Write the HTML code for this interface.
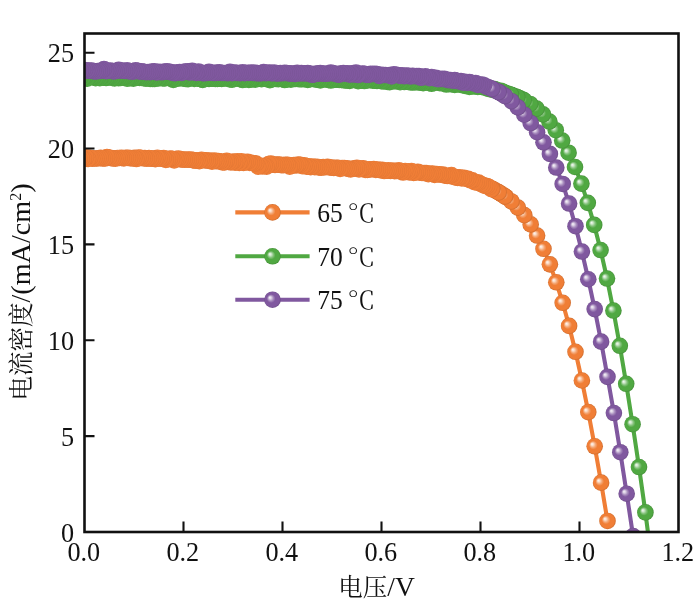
<!DOCTYPE html>
<html><head><meta charset="utf-8"><title>J-V</title><style>html,body{margin:0;padding:0;background:#fff;}svg{display:block;filter:blur(0.3px);}</style></head><body>
<svg width="700" height="603" viewBox="0 0 700 603">
<defs>
<radialGradient id="gorange" cx="0.5" cy="0.5" r="0.5" fx="0.33" fy="0.36"><stop offset="0" stop-color="#FEF6F1"/><stop offset="0.14" stop-color="#FBDFCD"/><stop offset="0.34" stop-color="#F4A572"/><stop offset="0.52" stop-color="#F07E36"/><stop offset="0.86" stop-color="#F07E36"/><stop offset="1" stop-color="#CE6C2E"/></radialGradient>
<radialGradient id="forange" cx="0.5" cy="0.5" r="0.5" fx="0.33" fy="0.36"><stop offset="0" stop-color="#FEF6F1"/><stop offset="0.12" stop-color="#FBDFCD"/><stop offset="0.3" stop-color="#F4A572"/><stop offset="0.48" stop-color="#F07E36"/><stop offset="0.9" stop-color="#F07E36"/><stop offset="1" stop-color="#E27633"/></radialGradient>
<radialGradient id="ggreen" cx="0.5" cy="0.5" r="0.5" fx="0.33" fy="0.36"><stop offset="0" stop-color="#F3F9F2"/><stop offset="0.14" stop-color="#D3E9D0"/><stop offset="0.34" stop-color="#84C27B"/><stop offset="0.52" stop-color="#50A842"/><stop offset="0.86" stop-color="#50A842"/><stop offset="1" stop-color="#459039"/></radialGradient>
<radialGradient id="fgreen" cx="0.5" cy="0.5" r="0.5" fx="0.33" fy="0.36"><stop offset="0" stop-color="#F3F9F2"/><stop offset="0.12" stop-color="#D3E9D0"/><stop offset="0.3" stop-color="#84C27B"/><stop offset="0.48" stop-color="#50A842"/><stop offset="0.9" stop-color="#50A842"/><stop offset="1" stop-color="#4B9E3E"/></radialGradient>
<radialGradient id="gpurple" cx="0.5" cy="0.5" r="0.5" fx="0.33" fy="0.36"><stop offset="0" stop-color="#F6F3F8"/><stop offset="0.14" stop-color="#DFD5E7"/><stop offset="0.34" stop-color="#A68ABC"/><stop offset="0.52" stop-color="#80589F"/><stop offset="0.86" stop-color="#80589F"/><stop offset="1" stop-color="#6E4C89"/></radialGradient>
<radialGradient id="fpurple" cx="0.5" cy="0.5" r="0.5" fx="0.33" fy="0.36"><stop offset="0" stop-color="#F6F3F8"/><stop offset="0.12" stop-color="#DFD5E7"/><stop offset="0.3" stop-color="#A68ABC"/><stop offset="0.48" stop-color="#80589F"/><stop offset="0.9" stop-color="#80589F"/><stop offset="1" stop-color="#785395"/></radialGradient>
<clipPath id="clip"><rect x="84.5" y="33.5" width="594.0" height="498.5"/></clipPath>
</defs>
<rect width="700" height="603" fill="#fff"/>
<g clip-path="url(#clip)">
<path d="M607.5 520.98 L601.1 482.67 L594.7 446.26 L588.3 412.09 L581.9 380.5 L575.5 351.78 L569.1 325.9 L562.7 302.77 L556.3 282.29 L549.9 264.35 L543.5 248.82 L537.1 235.55 L530.7 224.38 L524.3 215.14 L517.9 207.6 L511.5 201.47 L505.1 196.49 L498.7 192.38 L492.3 188.9 L491.3 189.21 L489.2 187.11 L487.1 186.09 L485 185.87 L482.9 184.94 L480.8 183.99 L478.7 182.62 L476.6 182.46 L474.5 182.22 L472.4 180.37 L470.3 180.32 L468.2 178.9 L466.1 178.74 L464 177.92 L461.9 178.42 L459.8 177.37 L457.7 177.88 L455.6 177.42 L453.5 176.85 L451.4 175.1 L449.3 175.96 L447.2 175.93 L445.1 175.72 L443 174.44 L440.9 174.79 L438.8 174.21 L436.7 174.05 L434.6 174.91 L432.5 173.54 L430.4 173.77 L428.3 174.09 L426.2 172.98 L424.1 173.05 L422 172.98 L419.9 172.75 L417.8 171.78 L415.7 172.38 L413.6 172.97 L411.5 171.05 L409.4 172.33 L407.3 171.72 L405.2 171.11 L403.1 172.55 L401 171.66 L398.9 170.34 L396.8 170.97 L394.7 171.14 L392.6 170.55 L390.5 170.95 L388.4 170.38 L386.3 170.71 L384.2 171.06 L382.1 169.68 L380 170.1 L377.9 169.59 L375.8 169.84 L373.7 168.95 L371.6 169.22 L369.5 169.35 L367.4 169.91 L365.3 169.96 L363.2 168.38 L361.1 168.6 L359 169.37 L356.9 167.69 L354.8 168.51 L352.7 168.63 L350.6 169.35 L348.5 168.91 L346.4 168.2 L344.3 168.07 L342.2 168.04 L340.1 169 L338 167.72 L335.9 167.69 L333.8 167.97 L331.7 167.58 L329.6 167.43 L327.5 166.76 L325.4 167.31 L323.3 166.94 L321.2 167.8 L319.1 167.37 L317 166.85 L314.9 167.15 L312.8 166.43 L310.7 167.15 L308.6 166.4 L306.5 166.63 L304.4 165.39 L302.3 166.25 L300.2 164.91 L298.1 164.59 L296 165.51 L293.9 165.03 L291.8 165.54 L289.7 166.67 L287.6 164.71 L285.5 164.71 L283.4 165.08 L281.3 165.14 L279.2 164.61 L277.1 164.47 L275 164.9 L272.9 164.66 L270.8 163.61 L268.7 164.06 L266.6 166.61 L264.5 165.83 L262.4 166.5 L260.3 165.71 L258.2 166.69 L256.1 163.5 L254 163.32 L251.9 162.79 L249.8 162.95 L247.7 161.71 L245.6 162.11 L243.5 162.89 L241.4 161.28 L239.3 162.95 L237.2 161.27 L235.1 162.66 L233 161.58 L230.9 162.45 L228.8 161.94 L226.7 160.83 L224.6 162.39 L222.5 162.4 L220.4 161.38 L218.3 161.15 L216.2 161.11 L214.1 160.52 L212 161.66 L209.9 160.57 L207.8 160.76 L205.7 160.21 L203.6 160.21 L201.5 159.72 L199.4 161.15 L197.3 160.2 L195.2 160.78 L193.1 160.12 L191 159.6 L188.9 159.73 L186.8 159.5 L184.7 159.76 L182.6 159.44 L180.5 159.4 L178.4 158.67 L176.3 158.93 L174.2 160.33 L172.1 158.86 L170 158.55 L167.9 159.32 L165.8 159.89 L163.7 158.1 L161.6 158.78 L159.5 158.46 L157.4 157.72 L155.3 159.16 L153.2 158.64 L151.1 158.64 L149 158.09 L146.9 158.77 L144.8 158.12 L142.7 158.31 L140.6 157.68 L138.5 157.58 L136.4 159.07 L134.3 157.92 L132.2 158.37 L130.1 158.14 L128 157.86 L125.9 157.79 L123.8 158.45 L121.7 157.87 L119.6 157.94 L117.5 158.03 L115.4 158.7 L113.3 158.4 L111.2 158.21 L109.1 157.63 L107 157.14 L104.9 158.54 L102.8 158.55 L100.7 157.89 L98.6 158.31 L96.5 158.47 L94.4 158.51 L92.3 158.59 L90.2 157.78 L88.1 158.99 L86 157.36 L83.9 158.66 L81.8 158.47 L79.7 158.74 L77.6 159.39 L75.5 159.19 L73.4 157.67 L71.3 157.39" fill="none" stroke="#F07E36" stroke-width="4.1" stroke-linejoin="round"/>
<g fill="url(#forange)"><circle cx="506" cy="197.13" r="8.3"/><circle cx="503.9" cy="195.66" r="8.3"/><circle cx="501.8" cy="194.28" r="8.3"/><circle cx="499.7" cy="192.98" r="8.3"/><circle cx="497.6" cy="191.75" r="8.3"/><circle cx="495.5" cy="190.57" r="8.3"/><circle cx="493.4" cy="189.46" r="8.3"/></g>
<g fill="url(#gorange)"><circle cx="607.5" cy="520.98" r="8.3"/><circle cx="601.1" cy="482.67" r="8.3"/><circle cx="594.7" cy="446.26" r="8.3"/><circle cx="588.3" cy="412.09" r="8.3"/><circle cx="581.9" cy="380.5" r="8.3"/><circle cx="575.5" cy="351.78" r="8.3"/><circle cx="569.1" cy="325.9" r="8.3"/><circle cx="562.7" cy="302.77" r="8.3"/><circle cx="556.3" cy="282.29" r="8.3"/><circle cx="549.9" cy="264.35" r="8.3"/><circle cx="543.5" cy="248.82" r="8.3"/><circle cx="537.1" cy="235.55" r="8.3"/><circle cx="530.7" cy="224.38" r="8.3"/><circle cx="524.3" cy="215.14" r="8.3"/><circle cx="517.9" cy="207.6" r="8.3"/><circle cx="511.5" cy="201.47" r="8.3"/><circle cx="505.1" cy="196.49" r="8.3"/><circle cx="498.7" cy="192.38" r="8.3"/><circle cx="492.3" cy="188.9" r="8.3"/></g>
<g fill="url(#forange)"><circle cx="491.3" cy="189.21" r="8.3"/><circle cx="489.2" cy="187.11" r="8.3"/><circle cx="487.1" cy="186.09" r="8.3"/><circle cx="485" cy="185.87" r="8.3"/><circle cx="482.9" cy="184.94" r="8.3"/><circle cx="480.8" cy="183.99" r="8.3"/><circle cx="478.7" cy="182.62" r="8.3"/><circle cx="476.6" cy="182.46" r="8.3"/><circle cx="474.5" cy="182.22" r="8.3"/><circle cx="472.4" cy="180.37" r="8.3"/><circle cx="470.3" cy="180.32" r="8.3"/><circle cx="468.2" cy="178.9" r="8.3"/><circle cx="466.1" cy="178.74" r="8.3"/><circle cx="464" cy="177.92" r="8.3"/><circle cx="461.9" cy="178.42" r="8.3"/><circle cx="459.8" cy="177.37" r="8.3"/><circle cx="457.7" cy="177.88" r="8.3"/><circle cx="455.6" cy="177.42" r="8.3"/><circle cx="453.5" cy="176.85" r="8.3"/><circle cx="451.4" cy="175.1" r="8.3"/><circle cx="449.3" cy="175.96" r="8.3"/><circle cx="447.2" cy="175.93" r="8.3"/><circle cx="445.1" cy="175.72" r="8.3"/><circle cx="443" cy="174.44" r="8.3"/><circle cx="440.9" cy="174.79" r="8.3"/><circle cx="438.8" cy="174.21" r="8.3"/><circle cx="436.7" cy="174.05" r="8.3"/><circle cx="434.6" cy="174.91" r="8.3"/><circle cx="432.5" cy="173.54" r="8.3"/><circle cx="430.4" cy="173.77" r="8.3"/><circle cx="428.3" cy="174.09" r="8.3"/><circle cx="426.2" cy="172.98" r="8.3"/><circle cx="424.1" cy="173.05" r="8.3"/><circle cx="422" cy="172.98" r="8.3"/><circle cx="419.9" cy="172.75" r="8.3"/><circle cx="417.8" cy="171.78" r="8.3"/><circle cx="415.7" cy="172.38" r="8.3"/><circle cx="413.6" cy="172.97" r="8.3"/><circle cx="411.5" cy="171.05" r="8.3"/><circle cx="409.4" cy="172.33" r="8.3"/><circle cx="407.3" cy="171.72" r="8.3"/><circle cx="405.2" cy="171.11" r="8.3"/><circle cx="403.1" cy="172.55" r="8.3"/><circle cx="401" cy="171.66" r="8.3"/><circle cx="398.9" cy="170.34" r="8.3"/><circle cx="396.8" cy="170.97" r="8.3"/><circle cx="394.7" cy="171.14" r="8.3"/><circle cx="392.6" cy="170.55" r="8.3"/><circle cx="390.5" cy="170.95" r="8.3"/><circle cx="388.4" cy="170.38" r="8.3"/><circle cx="386.3" cy="170.71" r="8.3"/><circle cx="384.2" cy="171.06" r="8.3"/><circle cx="382.1" cy="169.68" r="8.3"/><circle cx="380" cy="170.1" r="8.3"/><circle cx="377.9" cy="169.59" r="8.3"/><circle cx="375.8" cy="169.84" r="8.3"/><circle cx="373.7" cy="168.95" r="8.3"/><circle cx="371.6" cy="169.22" r="8.3"/><circle cx="369.5" cy="169.35" r="8.3"/><circle cx="367.4" cy="169.91" r="8.3"/><circle cx="365.3" cy="169.96" r="8.3"/><circle cx="363.2" cy="168.38" r="8.3"/><circle cx="361.1" cy="168.6" r="8.3"/><circle cx="359" cy="169.37" r="8.3"/><circle cx="356.9" cy="167.69" r="8.3"/><circle cx="354.8" cy="168.51" r="8.3"/><circle cx="352.7" cy="168.63" r="8.3"/><circle cx="350.6" cy="169.35" r="8.3"/><circle cx="348.5" cy="168.91" r="8.3"/><circle cx="346.4" cy="168.2" r="8.3"/><circle cx="344.3" cy="168.07" r="8.3"/><circle cx="342.2" cy="168.04" r="8.3"/><circle cx="340.1" cy="169" r="8.3"/><circle cx="338" cy="167.72" r="8.3"/><circle cx="335.9" cy="167.69" r="8.3"/><circle cx="333.8" cy="167.97" r="8.3"/><circle cx="331.7" cy="167.58" r="8.3"/><circle cx="329.6" cy="167.43" r="8.3"/><circle cx="327.5" cy="166.76" r="8.3"/><circle cx="325.4" cy="167.31" r="8.3"/><circle cx="323.3" cy="166.94" r="8.3"/><circle cx="321.2" cy="167.8" r="8.3"/><circle cx="319.1" cy="167.37" r="8.3"/><circle cx="317" cy="166.85" r="8.3"/><circle cx="314.9" cy="167.15" r="8.3"/><circle cx="312.8" cy="166.43" r="8.3"/><circle cx="310.7" cy="167.15" r="8.3"/><circle cx="308.6" cy="166.4" r="8.3"/><circle cx="306.5" cy="166.63" r="8.3"/><circle cx="304.4" cy="165.39" r="8.3"/><circle cx="302.3" cy="166.25" r="8.3"/><circle cx="300.2" cy="164.91" r="8.3"/><circle cx="298.1" cy="164.59" r="8.3"/><circle cx="296" cy="165.51" r="8.3"/><circle cx="293.9" cy="165.03" r="8.3"/><circle cx="291.8" cy="165.54" r="8.3"/><circle cx="289.7" cy="166.67" r="8.3"/><circle cx="287.6" cy="164.71" r="8.3"/><circle cx="285.5" cy="164.71" r="8.3"/><circle cx="283.4" cy="165.08" r="8.3"/><circle cx="281.3" cy="165.14" r="8.3"/><circle cx="279.2" cy="164.61" r="8.3"/><circle cx="277.1" cy="164.47" r="8.3"/><circle cx="275" cy="164.9" r="8.3"/><circle cx="272.9" cy="164.66" r="8.3"/><circle cx="270.8" cy="163.61" r="8.3"/><circle cx="268.7" cy="164.06" r="8.3"/><circle cx="266.6" cy="166.61" r="8.3"/><circle cx="264.5" cy="165.83" r="8.3"/><circle cx="262.4" cy="166.5" r="8.3"/><circle cx="260.3" cy="165.71" r="8.3"/><circle cx="258.2" cy="166.69" r="8.3"/><circle cx="256.1" cy="163.5" r="8.3"/><circle cx="254" cy="163.32" r="8.3"/><circle cx="251.9" cy="162.79" r="8.3"/><circle cx="249.8" cy="162.95" r="8.3"/><circle cx="247.7" cy="161.71" r="8.3"/><circle cx="245.6" cy="162.11" r="8.3"/><circle cx="243.5" cy="162.89" r="8.3"/><circle cx="241.4" cy="161.28" r="8.3"/><circle cx="239.3" cy="162.95" r="8.3"/><circle cx="237.2" cy="161.27" r="8.3"/><circle cx="235.1" cy="162.66" r="8.3"/><circle cx="233" cy="161.58" r="8.3"/><circle cx="230.9" cy="162.45" r="8.3"/><circle cx="228.8" cy="161.94" r="8.3"/><circle cx="226.7" cy="160.83" r="8.3"/><circle cx="224.6" cy="162.39" r="8.3"/><circle cx="222.5" cy="162.4" r="8.3"/><circle cx="220.4" cy="161.38" r="8.3"/><circle cx="218.3" cy="161.15" r="8.3"/><circle cx="216.2" cy="161.11" r="8.3"/><circle cx="214.1" cy="160.52" r="8.3"/><circle cx="212" cy="161.66" r="8.3"/><circle cx="209.9" cy="160.57" r="8.3"/><circle cx="207.8" cy="160.76" r="8.3"/><circle cx="205.7" cy="160.21" r="8.3"/><circle cx="203.6" cy="160.21" r="8.3"/><circle cx="201.5" cy="159.72" r="8.3"/><circle cx="199.4" cy="161.15" r="8.3"/><circle cx="197.3" cy="160.2" r="8.3"/><circle cx="195.2" cy="160.78" r="8.3"/><circle cx="193.1" cy="160.12" r="8.3"/><circle cx="191" cy="159.6" r="8.3"/><circle cx="188.9" cy="159.73" r="8.3"/><circle cx="186.8" cy="159.5" r="8.3"/><circle cx="184.7" cy="159.76" r="8.3"/><circle cx="182.6" cy="159.44" r="8.3"/><circle cx="180.5" cy="159.4" r="8.3"/><circle cx="178.4" cy="158.67" r="8.3"/><circle cx="176.3" cy="158.93" r="8.3"/><circle cx="174.2" cy="160.33" r="8.3"/><circle cx="172.1" cy="158.86" r="8.3"/><circle cx="170" cy="158.55" r="8.3"/><circle cx="167.9" cy="159.32" r="8.3"/><circle cx="165.8" cy="159.89" r="8.3"/><circle cx="163.7" cy="158.1" r="8.3"/><circle cx="161.6" cy="158.78" r="8.3"/><circle cx="159.5" cy="158.46" r="8.3"/><circle cx="157.4" cy="157.72" r="8.3"/><circle cx="155.3" cy="159.16" r="8.3"/><circle cx="153.2" cy="158.64" r="8.3"/><circle cx="151.1" cy="158.64" r="8.3"/><circle cx="149" cy="158.09" r="8.3"/><circle cx="146.9" cy="158.77" r="8.3"/><circle cx="144.8" cy="158.12" r="8.3"/><circle cx="142.7" cy="158.31" r="8.3"/><circle cx="140.6" cy="157.68" r="8.3"/><circle cx="138.5" cy="157.58" r="8.3"/><circle cx="136.4" cy="159.07" r="8.3"/><circle cx="134.3" cy="157.92" r="8.3"/><circle cx="132.2" cy="158.37" r="8.3"/><circle cx="130.1" cy="158.14" r="8.3"/><circle cx="128" cy="157.86" r="8.3"/><circle cx="125.9" cy="157.79" r="8.3"/><circle cx="123.8" cy="158.45" r="8.3"/><circle cx="121.7" cy="157.87" r="8.3"/><circle cx="119.6" cy="157.94" r="8.3"/><circle cx="117.5" cy="158.03" r="8.3"/><circle cx="115.4" cy="158.7" r="8.3"/><circle cx="113.3" cy="158.4" r="8.3"/><circle cx="111.2" cy="158.21" r="8.3"/><circle cx="109.1" cy="157.63" r="8.3"/><circle cx="107" cy="157.14" r="8.3"/><circle cx="104.9" cy="158.54" r="8.3"/><circle cx="102.8" cy="158.55" r="8.3"/><circle cx="100.7" cy="157.89" r="8.3"/><circle cx="98.6" cy="158.31" r="8.3"/><circle cx="96.5" cy="158.47" r="8.3"/><circle cx="94.4" cy="158.51" r="8.3"/><circle cx="92.3" cy="158.59" r="8.3"/><circle cx="90.2" cy="157.78" r="8.3"/><circle cx="88.1" cy="158.99" r="8.3"/><circle cx="86" cy="157.36" r="8.3"/><circle cx="83.9" cy="158.66" r="8.3"/><circle cx="81.8" cy="158.47" r="8.3"/><circle cx="79.7" cy="158.74" r="8.3"/><circle cx="77.6" cy="159.39" r="8.3"/><circle cx="75.5" cy="159.19" r="8.3"/><circle cx="73.4" cy="157.67" r="8.3"/><circle cx="71.3" cy="157.39" r="8.3"/></g>
<path d="M651.8 562.33 L645.4 512.42 L639 467.05 L632.6 424.19 L626.2 383.76 L619.8 345.78 L613.4 310.57 L607 278.56 L600.6 250.05 L594.2 224.89 L587.8 202.83 L581.4 183.62 L575 167 L568.6 152.72 L562.2 140.53 L555.8 130.19 L549.4 121.52 L543 114.37 L536.6 108.58 L530.2 103.95 L523.8 100.27 L517.4 97.31 L511 94.84 L509.3 94.24 L507.2 93.54 L505.1 92.87 L503 91.72 L500.9 90.73 L498.8 90.96 L496.7 89.94 L494.6 89.03 L492.5 89.83 L490.4 89.04 L488.3 88.89 L486.2 87.65 L484.1 87.47 L482 86.9 L479.9 86.63 L477.8 86.97 L475.7 86.09 L473.6 86.49 L471.5 86.22 L469.4 86.99 L467.3 84.71 L465.2 85.87 L463.1 85.08 L461 84.94 L458.9 83.9 L456.8 84.32 L454.7 84.89 L452.6 84.24 L450.5 84.2 L448.4 83.83 L446.3 84.57 L444.2 83.73 L442.1 82.3 L440 83.08 L437.9 82.19 L435.8 81.3 L433.7 82.81 L431.6 83.82 L429.5 82.93 L427.4 82.09 L425.3 82.12 L423.2 83.25 L421.1 82.56 L419 82.39 L416.9 82.23 L414.8 82.19 L412.7 82.55 L410.6 82.31 L408.5 82.01 L406.4 81.17 L404.3 82.01 L402.2 81.2 L400.1 82.19 L398 80.68 L395.9 81.28 L393.8 81.28 L391.7 80.41 L389.6 82.17 L387.5 81.94 L385.4 80.71 L383.3 81.38 L381.2 81.08 L379.1 79.21 L377 80.87 L374.9 80.61 L372.8 80.64 L370.7 79.88 L368.6 80.31 L366.5 80.3 L364.4 81.07 L362.3 80.5 L360.2 80.24 L358.1 81.11 L356 79.81 L353.9 79.86 L351.8 78.96 L349.7 80.94 L347.6 80.54 L345.5 80.46 L343.4 80.27 L341.3 79.9 L339.2 79.92 L337.1 79.6 L335 79.59 L332.9 79.71 L330.8 80.55 L328.7 79.94 L326.6 79.54 L324.5 79.2 L322.4 79.13 L320.3 80.45 L318.2 79.76 L316.1 79.47 L314 79.19 L311.9 78.71 L309.8 79.31 L307.7 79.85 L305.6 79.07 L303.5 79.14 L301.4 79.13 L299.3 79.3 L297.2 78.26 L295.1 79.06 L293 78.67 L290.9 79.69 L288.8 78.68 L286.7 79.47 L284.6 80.03 L282.5 78.91 L280.4 78.72 L278.3 79.18 L276.2 79.05 L274.1 78.44 L272 79.3 L269.9 80.22 L267.8 78.85 L265.7 78.87 L263.6 78.35 L261.5 79.16 L259.4 78.21 L257.3 78.29 L255.2 79.71 L253.1 78.39 L251 79.57 L248.9 79.83 L246.8 79.06 L244.7 79.23 L242.6 80.06 L240.5 78.76 L238.4 78.52 L236.3 78.05 L234.2 78.88 L232.1 79.74 L230 79.42 L227.9 78.27 L225.8 78.31 L223.7 78.51 L221.6 78.98 L219.5 78.68 L217.4 78.92 L215.3 78.96 L213.2 78.6 L211.1 78.74 L209 78.88 L206.9 78.7 L204.8 79.04 L202.7 79.85 L200.6 79.08 L198.5 78.74 L196.4 77.69 L194.3 78.92 L192.2 77.51 L190.1 77.82 L188 79.17 L185.9 79.06 L183.8 78.54 L181.7 77.59 L179.6 78.38 L177.5 78.18 L175.4 78.95 L173.3 79.91 L171.2 78.67 L169.1 78.05 L167 77.8 L164.9 78.45 L162.8 78.36 L160.7 77.75 L158.6 78.49 L156.5 77.71 L154.4 79.05 L152.3 78.99 L150.2 78.98 L148.1 78.02 L146 78.59 L143.9 78.18 L141.8 77.99 L139.7 77.99 L137.6 77.39 L135.5 77.27 L133.4 78.58 L131.3 77.96 L129.2 78.17 L127.1 78.61 L125 76.93 L122.9 77.46 L120.8 78 L118.7 78.09 L116.6 77.59 L114.5 78.39 L112.4 77.85 L110.3 76.95 L108.2 77.08 L106.1 78.07 L104 77.82 L101.9 76.35 L99.8 78.25 L97.7 77.74 L95.6 78.14 L93.5 77.04 L91.4 77.04 L89.3 76.48 L87.2 78.62 L85.1 76.93 L83 77.92 L80.9 76.52 L78.8 76.94 L76.7 75.77 L74.6 76.47 L72.5 77.22 L70.4 75.8" fill="none" stroke="#50A842" stroke-width="4.1" stroke-linejoin="round"/>
<g fill="url(#fgreen)"><circle cx="524" cy="100.37" r="8.3"/><circle cx="521.9" cy="99.33" r="8.3"/><circle cx="519.8" cy="98.35" r="8.3"/><circle cx="517.7" cy="97.43" r="8.3"/><circle cx="515.6" cy="96.57" r="8.3"/><circle cx="513.5" cy="95.76" r="8.3"/><circle cx="511.4" cy="94.98" r="8.3"/><circle cx="509.3" cy="94.24" r="8.3"/><circle cx="507.2" cy="93.54" r="8.3"/><circle cx="505.1" cy="92.87" r="8.3"/></g>
<g fill="url(#ggreen)"><circle cx="645.4" cy="512.42" r="8.3"/><circle cx="639" cy="467.05" r="8.3"/><circle cx="632.6" cy="424.19" r="8.3"/><circle cx="626.2" cy="383.76" r="8.3"/><circle cx="619.8" cy="345.78" r="8.3"/><circle cx="613.4" cy="310.57" r="8.3"/><circle cx="607" cy="278.56" r="8.3"/><circle cx="600.6" cy="250.05" r="8.3"/><circle cx="594.2" cy="224.89" r="8.3"/><circle cx="587.8" cy="202.83" r="8.3"/><circle cx="581.4" cy="183.62" r="8.3"/><circle cx="575" cy="167" r="8.3"/><circle cx="568.6" cy="152.72" r="8.3"/><circle cx="562.2" cy="140.53" r="8.3"/><circle cx="555.8" cy="130.19" r="8.3"/><circle cx="549.4" cy="121.52" r="8.3"/><circle cx="543" cy="114.37" r="8.3"/><circle cx="536.6" cy="108.58" r="8.3"/><circle cx="530.2" cy="103.95" r="8.3"/><circle cx="523.8" cy="100.27" r="8.3"/><circle cx="517.4" cy="97.31" r="8.3"/><circle cx="511" cy="94.84" r="8.3"/></g>
<g fill="url(#fgreen)"><circle cx="503" cy="91.72" r="8.3"/><circle cx="500.9" cy="90.73" r="8.3"/><circle cx="498.8" cy="90.96" r="8.3"/><circle cx="496.7" cy="89.94" r="8.3"/><circle cx="494.6" cy="89.03" r="8.3"/><circle cx="492.5" cy="89.83" r="8.3"/><circle cx="490.4" cy="89.04" r="8.3"/><circle cx="488.3" cy="88.89" r="8.3"/><circle cx="486.2" cy="87.65" r="8.3"/><circle cx="484.1" cy="87.47" r="8.3"/><circle cx="482" cy="86.9" r="8.3"/><circle cx="479.9" cy="86.63" r="8.3"/><circle cx="477.8" cy="86.97" r="8.3"/><circle cx="475.7" cy="86.09" r="8.3"/><circle cx="473.6" cy="86.49" r="8.3"/><circle cx="471.5" cy="86.22" r="8.3"/><circle cx="469.4" cy="86.99" r="8.3"/><circle cx="467.3" cy="84.71" r="8.3"/><circle cx="465.2" cy="85.87" r="8.3"/><circle cx="463.1" cy="85.08" r="8.3"/><circle cx="461" cy="84.94" r="8.3"/><circle cx="458.9" cy="83.9" r="8.3"/><circle cx="456.8" cy="84.32" r="8.3"/><circle cx="454.7" cy="84.89" r="8.3"/><circle cx="452.6" cy="84.24" r="8.3"/><circle cx="450.5" cy="84.2" r="8.3"/><circle cx="448.4" cy="83.83" r="8.3"/><circle cx="446.3" cy="84.57" r="8.3"/><circle cx="444.2" cy="83.73" r="8.3"/><circle cx="442.1" cy="82.3" r="8.3"/><circle cx="440" cy="83.08" r="8.3"/><circle cx="437.9" cy="82.19" r="8.3"/><circle cx="435.8" cy="81.3" r="8.3"/><circle cx="433.7" cy="82.81" r="8.3"/><circle cx="431.6" cy="83.82" r="8.3"/><circle cx="429.5" cy="82.93" r="8.3"/><circle cx="427.4" cy="82.09" r="8.3"/><circle cx="425.3" cy="82.12" r="8.3"/><circle cx="423.2" cy="83.25" r="8.3"/><circle cx="421.1" cy="82.56" r="8.3"/><circle cx="419" cy="82.39" r="8.3"/><circle cx="416.9" cy="82.23" r="8.3"/><circle cx="414.8" cy="82.19" r="8.3"/><circle cx="412.7" cy="82.55" r="8.3"/><circle cx="410.6" cy="82.31" r="8.3"/><circle cx="408.5" cy="82.01" r="8.3"/><circle cx="406.4" cy="81.17" r="8.3"/><circle cx="404.3" cy="82.01" r="8.3"/><circle cx="402.2" cy="81.2" r="8.3"/><circle cx="400.1" cy="82.19" r="8.3"/><circle cx="398" cy="80.68" r="8.3"/><circle cx="395.9" cy="81.28" r="8.3"/><circle cx="393.8" cy="81.28" r="8.3"/><circle cx="391.7" cy="80.41" r="8.3"/><circle cx="389.6" cy="82.17" r="8.3"/><circle cx="387.5" cy="81.94" r="8.3"/><circle cx="385.4" cy="80.71" r="8.3"/><circle cx="383.3" cy="81.38" r="8.3"/><circle cx="381.2" cy="81.08" r="8.3"/><circle cx="379.1" cy="79.21" r="8.3"/><circle cx="377" cy="80.87" r="8.3"/><circle cx="374.9" cy="80.61" r="8.3"/><circle cx="372.8" cy="80.64" r="8.3"/><circle cx="370.7" cy="79.88" r="8.3"/><circle cx="368.6" cy="80.31" r="8.3"/><circle cx="366.5" cy="80.3" r="8.3"/><circle cx="364.4" cy="81.07" r="8.3"/><circle cx="362.3" cy="80.5" r="8.3"/><circle cx="360.2" cy="80.24" r="8.3"/><circle cx="358.1" cy="81.11" r="8.3"/><circle cx="356" cy="79.81" r="8.3"/><circle cx="353.9" cy="79.86" r="8.3"/><circle cx="351.8" cy="78.96" r="8.3"/><circle cx="349.7" cy="80.94" r="8.3"/><circle cx="347.6" cy="80.54" r="8.3"/><circle cx="345.5" cy="80.46" r="8.3"/><circle cx="343.4" cy="80.27" r="8.3"/><circle cx="341.3" cy="79.9" r="8.3"/><circle cx="339.2" cy="79.92" r="8.3"/><circle cx="337.1" cy="79.6" r="8.3"/><circle cx="335" cy="79.59" r="8.3"/><circle cx="332.9" cy="79.71" r="8.3"/><circle cx="330.8" cy="80.55" r="8.3"/><circle cx="328.7" cy="79.94" r="8.3"/><circle cx="326.6" cy="79.54" r="8.3"/><circle cx="324.5" cy="79.2" r="8.3"/><circle cx="322.4" cy="79.13" r="8.3"/><circle cx="320.3" cy="80.45" r="8.3"/><circle cx="318.2" cy="79.76" r="8.3"/><circle cx="316.1" cy="79.47" r="8.3"/><circle cx="314" cy="79.19" r="8.3"/><circle cx="311.9" cy="78.71" r="8.3"/><circle cx="309.8" cy="79.31" r="8.3"/><circle cx="307.7" cy="79.85" r="8.3"/><circle cx="305.6" cy="79.07" r="8.3"/><circle cx="303.5" cy="79.14" r="8.3"/><circle cx="301.4" cy="79.13" r="8.3"/><circle cx="299.3" cy="79.3" r="8.3"/><circle cx="297.2" cy="78.26" r="8.3"/><circle cx="295.1" cy="79.06" r="8.3"/><circle cx="293" cy="78.67" r="8.3"/><circle cx="290.9" cy="79.69" r="8.3"/><circle cx="288.8" cy="78.68" r="8.3"/><circle cx="286.7" cy="79.47" r="8.3"/><circle cx="284.6" cy="80.03" r="8.3"/><circle cx="282.5" cy="78.91" r="8.3"/><circle cx="280.4" cy="78.72" r="8.3"/><circle cx="278.3" cy="79.18" r="8.3"/><circle cx="276.2" cy="79.05" r="8.3"/><circle cx="274.1" cy="78.44" r="8.3"/><circle cx="272" cy="79.3" r="8.3"/><circle cx="269.9" cy="80.22" r="8.3"/><circle cx="267.8" cy="78.85" r="8.3"/><circle cx="265.7" cy="78.87" r="8.3"/><circle cx="263.6" cy="78.35" r="8.3"/><circle cx="261.5" cy="79.16" r="8.3"/><circle cx="259.4" cy="78.21" r="8.3"/><circle cx="257.3" cy="78.29" r="8.3"/><circle cx="255.2" cy="79.71" r="8.3"/><circle cx="253.1" cy="78.39" r="8.3"/><circle cx="251" cy="79.57" r="8.3"/><circle cx="248.9" cy="79.83" r="8.3"/><circle cx="246.8" cy="79.06" r="8.3"/><circle cx="244.7" cy="79.23" r="8.3"/><circle cx="242.6" cy="80.06" r="8.3"/><circle cx="240.5" cy="78.76" r="8.3"/><circle cx="238.4" cy="78.52" r="8.3"/><circle cx="236.3" cy="78.05" r="8.3"/><circle cx="234.2" cy="78.88" r="8.3"/><circle cx="232.1" cy="79.74" r="8.3"/><circle cx="230" cy="79.42" r="8.3"/><circle cx="227.9" cy="78.27" r="8.3"/><circle cx="225.8" cy="78.31" r="8.3"/><circle cx="223.7" cy="78.51" r="8.3"/><circle cx="221.6" cy="78.98" r="8.3"/><circle cx="219.5" cy="78.68" r="8.3"/><circle cx="217.4" cy="78.92" r="8.3"/><circle cx="215.3" cy="78.96" r="8.3"/><circle cx="213.2" cy="78.6" r="8.3"/><circle cx="211.1" cy="78.74" r="8.3"/><circle cx="209" cy="78.88" r="8.3"/><circle cx="206.9" cy="78.7" r="8.3"/><circle cx="204.8" cy="79.04" r="8.3"/><circle cx="202.7" cy="79.85" r="8.3"/><circle cx="200.6" cy="79.08" r="8.3"/><circle cx="198.5" cy="78.74" r="8.3"/><circle cx="196.4" cy="77.69" r="8.3"/><circle cx="194.3" cy="78.92" r="8.3"/><circle cx="192.2" cy="77.51" r="8.3"/><circle cx="190.1" cy="77.82" r="8.3"/><circle cx="188" cy="79.17" r="8.3"/><circle cx="185.9" cy="79.06" r="8.3"/><circle cx="183.8" cy="78.54" r="8.3"/><circle cx="181.7" cy="77.59" r="8.3"/><circle cx="179.6" cy="78.38" r="8.3"/><circle cx="177.5" cy="78.18" r="8.3"/><circle cx="175.4" cy="78.95" r="8.3"/><circle cx="173.3" cy="79.91" r="8.3"/><circle cx="171.2" cy="78.67" r="8.3"/><circle cx="169.1" cy="78.05" r="8.3"/><circle cx="167" cy="77.8" r="8.3"/><circle cx="164.9" cy="78.45" r="8.3"/><circle cx="162.8" cy="78.36" r="8.3"/><circle cx="160.7" cy="77.75" r="8.3"/><circle cx="158.6" cy="78.49" r="8.3"/><circle cx="156.5" cy="77.71" r="8.3"/><circle cx="154.4" cy="79.05" r="8.3"/><circle cx="152.3" cy="78.99" r="8.3"/><circle cx="150.2" cy="78.98" r="8.3"/><circle cx="148.1" cy="78.02" r="8.3"/><circle cx="146" cy="78.59" r="8.3"/><circle cx="143.9" cy="78.18" r="8.3"/><circle cx="141.8" cy="77.99" r="8.3"/><circle cx="139.7" cy="77.99" r="8.3"/><circle cx="137.6" cy="77.39" r="8.3"/><circle cx="135.5" cy="77.27" r="8.3"/><circle cx="133.4" cy="78.58" r="8.3"/><circle cx="131.3" cy="77.96" r="8.3"/><circle cx="129.2" cy="78.17" r="8.3"/><circle cx="127.1" cy="78.61" r="8.3"/><circle cx="125" cy="76.93" r="8.3"/><circle cx="122.9" cy="77.46" r="8.3"/><circle cx="120.8" cy="78" r="8.3"/><circle cx="118.7" cy="78.09" r="8.3"/><circle cx="116.6" cy="77.59" r="8.3"/><circle cx="114.5" cy="78.39" r="8.3"/><circle cx="112.4" cy="77.85" r="8.3"/><circle cx="110.3" cy="76.95" r="8.3"/><circle cx="108.2" cy="77.08" r="8.3"/><circle cx="106.1" cy="78.07" r="8.3"/><circle cx="104" cy="77.82" r="8.3"/><circle cx="101.9" cy="76.35" r="8.3"/><circle cx="99.8" cy="78.25" r="8.3"/><circle cx="97.7" cy="77.74" r="8.3"/><circle cx="95.6" cy="78.14" r="8.3"/><circle cx="93.5" cy="77.04" r="8.3"/><circle cx="91.4" cy="77.04" r="8.3"/><circle cx="89.3" cy="76.48" r="8.3"/><circle cx="87.2" cy="78.62" r="8.3"/><circle cx="85.1" cy="76.93" r="8.3"/><circle cx="83" cy="77.92" r="8.3"/><circle cx="80.9" cy="76.52" r="8.3"/><circle cx="78.8" cy="76.94" r="8.3"/><circle cx="76.7" cy="75.77" r="8.3"/><circle cx="74.6" cy="76.47" r="8.3"/><circle cx="72.5" cy="77.22" r="8.3"/><circle cx="70.4" cy="75.8" r="8.3"/></g>
<path d="M639.5 582.71 L633.1 536.1 L626.7 493.72 L620.3 452.19 L613.9 413.04 L607.5 376.84 L601.1 341.65 L594.7 309.11 L588.3 279.25 L581.9 251.57 L575.5 226.23 L569.1 203.57 L562.7 183.96 L556.3 167.56 L549.9 153.91 L543.5 142.34 L537.1 132.21 L530.7 123.01 L524.3 114.71 L517.9 107.39 L511.5 101.18 L505.1 96.11 L498.7 92.08 L492.3 88.95 L490.4 88.16 L488.3 87.37 L486.2 86.65 L484.1 85.37 L482 84.62 L479.9 84.82 L477.8 84.88 L475.7 82.97 L473.6 83.48 L471.5 82.7 L469.4 82.14 L467.3 82.91 L465.2 81.76 L463.1 82.66 L461 81 L458.9 81.4 L456.8 80.75 L454.7 80.16 L452.6 80.69 L450.5 79.98 L448.4 80.18 L446.3 79.54 L444.2 78.68 L442.1 79.03 L440 78.9 L437.9 79.22 L435.8 77.89 L433.7 78.2 L431.6 76.99 L429.5 78.22 L427.4 76.99 L425.3 76.38 L423.2 77.25 L421.1 77.78 L419 76.03 L416.9 76.13 L414.8 76.19 L412.7 75.81 L410.6 76.57 L408.5 75.72 L406.4 75.64 L404.3 76.29 L402.2 75.37 L400.1 75.96 L398 75.01 L395.9 74.75 L393.8 74.28 L391.7 76.39 L389.6 74.99 L387.5 75.24 L385.4 74.98 L383.3 75.02 L381.2 74.87 L379.1 75.91 L377 74.07 L374.9 73.69 L372.8 73.95 L370.7 73.69 L368.6 74.88 L366.5 74.87 L364.4 73.75 L362.3 73.44 L360.2 74.02 L358.1 75.02 L356 72.45 L353.9 74.42 L351.8 73.42 L349.7 74.65 L347.6 73.35 L345.5 73.79 L343.4 73.03 L341.3 73.32 L339.2 74.71 L337.1 74.35 L335 73.59 L332.9 73.29 L330.8 72.65 L328.7 73.53 L326.6 73.73 L324.5 73.68 L322.4 73.66 L320.3 73.03 L318.2 73.64 L316.1 73.65 L314 74.43 L311.9 74.76 L309.8 73.54 L307.7 73.15 L305.6 73.56 L303.5 73.22 L301.4 73.12 L299.3 73.52 L297.2 72.91 L295.1 73.88 L293 73.44 L290.9 73.64 L288.8 73.36 L286.7 73.02 L284.6 72.87 L282.5 73.27 L280.4 73.07 L278.3 73.52 L276.2 73.36 L274.1 72.53 L272 73.36 L269.9 72.5 L267.8 72.91 L265.7 73.09 L263.6 72 L261.5 73.28 L259.4 73.29 L257.3 73.09 L255.2 72.9 L253.1 72.91 L251 72.53 L248.9 72.93 L246.8 72.74 L244.7 73.1 L242.6 72.3 L240.5 73.14 L238.4 73.06 L236.3 72.87 L234.2 72.66 L232.1 73.23 L230 71.88 L227.9 73.13 L225.8 72.97 L223.7 72.97 L221.6 73 L219.5 72.35 L217.4 72.56 L215.3 73.07 L213.2 72.92 L211.1 72.76 L209 71.69 L206.9 72.9 L204.8 73.25 L202.7 73.12 L200.6 72.63 L198.5 71.52 L196.4 72.99 L194.3 72.3 L192.2 70.84 L190.1 72.56 L188 71.4 L185.9 71.49 L183.8 71.85 L181.7 72.96 L179.6 71.94 L177.5 72.29 L175.4 73.15 L173.3 73.02 L171.2 71.97 L169.1 71.85 L167 71.2 L164.9 71.51 L162.8 72.14 L160.7 72.09 L158.6 71.88 L156.5 72.37 L154.4 71.27 L152.3 71.66 L150.2 72.1 L148.1 71.97 L146 72.22 L143.9 71.78 L141.8 71.32 L139.7 71.68 L137.6 70.82 L135.5 70.4 L133.4 71.69 L131.3 71.26 L129.2 71.44 L127.1 70.19 L125 70.95 L122.9 70.77 L120.8 70.56 L118.7 69.68 L116.6 70.79 L114.5 71.49 L112.4 71.13 L110.3 70.5 L108.2 70.8 L106.1 71.22 L104 69.06 L101.9 70.6 L99.8 70.95 L97.7 70.98 L95.6 71.55 L93.5 71.16 L91.4 70.62 L89.3 70.56 L87.2 70.8 L85.1 69.95 L83 70.2 L80.9 70.72 L78.8 71.3 L76.7 69.98 L74.6 69.99 L72.5 70.09 L70.4 70.72" fill="none" stroke="#80589F" stroke-width="4.1" stroke-linejoin="round"/>
<g fill="url(#fpurple)"><circle cx="503" cy="94.68" r="8.3"/><circle cx="500.9" cy="93.36" r="8.3"/><circle cx="498.8" cy="92.14" r="8.3"/><circle cx="496.7" cy="91.01" r="8.3"/><circle cx="494.6" cy="89.98" r="8.3"/><circle cx="492.5" cy="89.03" r="8.3"/><circle cx="490.4" cy="88.16" r="8.3"/><circle cx="488.3" cy="87.37" r="8.3"/><circle cx="486.2" cy="86.65" r="8.3"/></g>
<g fill="url(#gpurple)"><circle cx="633.1" cy="536.1" r="8.3"/><circle cx="626.7" cy="493.72" r="8.3"/><circle cx="620.3" cy="452.19" r="8.3"/><circle cx="613.9" cy="413.04" r="8.3"/><circle cx="607.5" cy="376.84" r="8.3"/><circle cx="601.1" cy="341.65" r="8.3"/><circle cx="594.7" cy="309.11" r="8.3"/><circle cx="588.3" cy="279.25" r="8.3"/><circle cx="581.9" cy="251.57" r="8.3"/><circle cx="575.5" cy="226.23" r="8.3"/><circle cx="569.1" cy="203.57" r="8.3"/><circle cx="562.7" cy="183.96" r="8.3"/><circle cx="556.3" cy="167.56" r="8.3"/><circle cx="549.9" cy="153.91" r="8.3"/><circle cx="543.5" cy="142.34" r="8.3"/><circle cx="537.1" cy="132.21" r="8.3"/><circle cx="530.7" cy="123.01" r="8.3"/><circle cx="524.3" cy="114.71" r="8.3"/><circle cx="517.9" cy="107.39" r="8.3"/><circle cx="511.5" cy="101.18" r="8.3"/><circle cx="505.1" cy="96.11" r="8.3"/><circle cx="498.7" cy="92.08" r="8.3"/><circle cx="492.3" cy="88.95" r="8.3"/></g>
<g fill="url(#fpurple)"><circle cx="484.1" cy="85.37" r="8.3"/><circle cx="482" cy="84.62" r="8.3"/><circle cx="479.9" cy="84.82" r="8.3"/><circle cx="477.8" cy="84.88" r="8.3"/><circle cx="475.7" cy="82.97" r="8.3"/><circle cx="473.6" cy="83.48" r="8.3"/><circle cx="471.5" cy="82.7" r="8.3"/><circle cx="469.4" cy="82.14" r="8.3"/><circle cx="467.3" cy="82.91" r="8.3"/><circle cx="465.2" cy="81.76" r="8.3"/><circle cx="463.1" cy="82.66" r="8.3"/><circle cx="461" cy="81" r="8.3"/><circle cx="458.9" cy="81.4" r="8.3"/><circle cx="456.8" cy="80.75" r="8.3"/><circle cx="454.7" cy="80.16" r="8.3"/><circle cx="452.6" cy="80.69" r="8.3"/><circle cx="450.5" cy="79.98" r="8.3"/><circle cx="448.4" cy="80.18" r="8.3"/><circle cx="446.3" cy="79.54" r="8.3"/><circle cx="444.2" cy="78.68" r="8.3"/><circle cx="442.1" cy="79.03" r="8.3"/><circle cx="440" cy="78.9" r="8.3"/><circle cx="437.9" cy="79.22" r="8.3"/><circle cx="435.8" cy="77.89" r="8.3"/><circle cx="433.7" cy="78.2" r="8.3"/><circle cx="431.6" cy="76.99" r="8.3"/><circle cx="429.5" cy="78.22" r="8.3"/><circle cx="427.4" cy="76.99" r="8.3"/><circle cx="425.3" cy="76.38" r="8.3"/><circle cx="423.2" cy="77.25" r="8.3"/><circle cx="421.1" cy="77.78" r="8.3"/><circle cx="419" cy="76.03" r="8.3"/><circle cx="416.9" cy="76.13" r="8.3"/><circle cx="414.8" cy="76.19" r="8.3"/><circle cx="412.7" cy="75.81" r="8.3"/><circle cx="410.6" cy="76.57" r="8.3"/><circle cx="408.5" cy="75.72" r="8.3"/><circle cx="406.4" cy="75.64" r="8.3"/><circle cx="404.3" cy="76.29" r="8.3"/><circle cx="402.2" cy="75.37" r="8.3"/><circle cx="400.1" cy="75.96" r="8.3"/><circle cx="398" cy="75.01" r="8.3"/><circle cx="395.9" cy="74.75" r="8.3"/><circle cx="393.8" cy="74.28" r="8.3"/><circle cx="391.7" cy="76.39" r="8.3"/><circle cx="389.6" cy="74.99" r="8.3"/><circle cx="387.5" cy="75.24" r="8.3"/><circle cx="385.4" cy="74.98" r="8.3"/><circle cx="383.3" cy="75.02" r="8.3"/><circle cx="381.2" cy="74.87" r="8.3"/><circle cx="379.1" cy="75.91" r="8.3"/><circle cx="377" cy="74.07" r="8.3"/><circle cx="374.9" cy="73.69" r="8.3"/><circle cx="372.8" cy="73.95" r="8.3"/><circle cx="370.7" cy="73.69" r="8.3"/><circle cx="368.6" cy="74.88" r="8.3"/><circle cx="366.5" cy="74.87" r="8.3"/><circle cx="364.4" cy="73.75" r="8.3"/><circle cx="362.3" cy="73.44" r="8.3"/><circle cx="360.2" cy="74.02" r="8.3"/><circle cx="358.1" cy="75.02" r="8.3"/><circle cx="356" cy="72.45" r="8.3"/><circle cx="353.9" cy="74.42" r="8.3"/><circle cx="351.8" cy="73.42" r="8.3"/><circle cx="349.7" cy="74.65" r="8.3"/><circle cx="347.6" cy="73.35" r="8.3"/><circle cx="345.5" cy="73.79" r="8.3"/><circle cx="343.4" cy="73.03" r="8.3"/><circle cx="341.3" cy="73.32" r="8.3"/><circle cx="339.2" cy="74.71" r="8.3"/><circle cx="337.1" cy="74.35" r="8.3"/><circle cx="335" cy="73.59" r="8.3"/><circle cx="332.9" cy="73.29" r="8.3"/><circle cx="330.8" cy="72.65" r="8.3"/><circle cx="328.7" cy="73.53" r="8.3"/><circle cx="326.6" cy="73.73" r="8.3"/><circle cx="324.5" cy="73.68" r="8.3"/><circle cx="322.4" cy="73.66" r="8.3"/><circle cx="320.3" cy="73.03" r="8.3"/><circle cx="318.2" cy="73.64" r="8.3"/><circle cx="316.1" cy="73.65" r="8.3"/><circle cx="314" cy="74.43" r="8.3"/><circle cx="311.9" cy="74.76" r="8.3"/><circle cx="309.8" cy="73.54" r="8.3"/><circle cx="307.7" cy="73.15" r="8.3"/><circle cx="305.6" cy="73.56" r="8.3"/><circle cx="303.5" cy="73.22" r="8.3"/><circle cx="301.4" cy="73.12" r="8.3"/><circle cx="299.3" cy="73.52" r="8.3"/><circle cx="297.2" cy="72.91" r="8.3"/><circle cx="295.1" cy="73.88" r="8.3"/><circle cx="293" cy="73.44" r="8.3"/><circle cx="290.9" cy="73.64" r="8.3"/><circle cx="288.8" cy="73.36" r="8.3"/><circle cx="286.7" cy="73.02" r="8.3"/><circle cx="284.6" cy="72.87" r="8.3"/><circle cx="282.5" cy="73.27" r="8.3"/><circle cx="280.4" cy="73.07" r="8.3"/><circle cx="278.3" cy="73.52" r="8.3"/><circle cx="276.2" cy="73.36" r="8.3"/><circle cx="274.1" cy="72.53" r="8.3"/><circle cx="272" cy="73.36" r="8.3"/><circle cx="269.9" cy="72.5" r="8.3"/><circle cx="267.8" cy="72.91" r="8.3"/><circle cx="265.7" cy="73.09" r="8.3"/><circle cx="263.6" cy="72" r="8.3"/><circle cx="261.5" cy="73.28" r="8.3"/><circle cx="259.4" cy="73.29" r="8.3"/><circle cx="257.3" cy="73.09" r="8.3"/><circle cx="255.2" cy="72.9" r="8.3"/><circle cx="253.1" cy="72.91" r="8.3"/><circle cx="251" cy="72.53" r="8.3"/><circle cx="248.9" cy="72.93" r="8.3"/><circle cx="246.8" cy="72.74" r="8.3"/><circle cx="244.7" cy="73.1" r="8.3"/><circle cx="242.6" cy="72.3" r="8.3"/><circle cx="240.5" cy="73.14" r="8.3"/><circle cx="238.4" cy="73.06" r="8.3"/><circle cx="236.3" cy="72.87" r="8.3"/><circle cx="234.2" cy="72.66" r="8.3"/><circle cx="232.1" cy="73.23" r="8.3"/><circle cx="230" cy="71.88" r="8.3"/><circle cx="227.9" cy="73.13" r="8.3"/><circle cx="225.8" cy="72.97" r="8.3"/><circle cx="223.7" cy="72.97" r="8.3"/><circle cx="221.6" cy="73" r="8.3"/><circle cx="219.5" cy="72.35" r="8.3"/><circle cx="217.4" cy="72.56" r="8.3"/><circle cx="215.3" cy="73.07" r="8.3"/><circle cx="213.2" cy="72.92" r="8.3"/><circle cx="211.1" cy="72.76" r="8.3"/><circle cx="209" cy="71.69" r="8.3"/><circle cx="206.9" cy="72.9" r="8.3"/><circle cx="204.8" cy="73.25" r="8.3"/><circle cx="202.7" cy="73.12" r="8.3"/><circle cx="200.6" cy="72.63" r="8.3"/><circle cx="198.5" cy="71.52" r="8.3"/><circle cx="196.4" cy="72.99" r="8.3"/><circle cx="194.3" cy="72.3" r="8.3"/><circle cx="192.2" cy="70.84" r="8.3"/><circle cx="190.1" cy="72.56" r="8.3"/><circle cx="188" cy="71.4" r="8.3"/><circle cx="185.9" cy="71.49" r="8.3"/><circle cx="183.8" cy="71.85" r="8.3"/><circle cx="181.7" cy="72.96" r="8.3"/><circle cx="179.6" cy="71.94" r="8.3"/><circle cx="177.5" cy="72.29" r="8.3"/><circle cx="175.4" cy="73.15" r="8.3"/><circle cx="173.3" cy="73.02" r="8.3"/><circle cx="171.2" cy="71.97" r="8.3"/><circle cx="169.1" cy="71.85" r="8.3"/><circle cx="167" cy="71.2" r="8.3"/><circle cx="164.9" cy="71.51" r="8.3"/><circle cx="162.8" cy="72.14" r="8.3"/><circle cx="160.7" cy="72.09" r="8.3"/><circle cx="158.6" cy="71.88" r="8.3"/><circle cx="156.5" cy="72.37" r="8.3"/><circle cx="154.4" cy="71.27" r="8.3"/><circle cx="152.3" cy="71.66" r="8.3"/><circle cx="150.2" cy="72.1" r="8.3"/><circle cx="148.1" cy="71.97" r="8.3"/><circle cx="146" cy="72.22" r="8.3"/><circle cx="143.9" cy="71.78" r="8.3"/><circle cx="141.8" cy="71.32" r="8.3"/><circle cx="139.7" cy="71.68" r="8.3"/><circle cx="137.6" cy="70.82" r="8.3"/><circle cx="135.5" cy="70.4" r="8.3"/><circle cx="133.4" cy="71.69" r="8.3"/><circle cx="131.3" cy="71.26" r="8.3"/><circle cx="129.2" cy="71.44" r="8.3"/><circle cx="127.1" cy="70.19" r="8.3"/><circle cx="125" cy="70.95" r="8.3"/><circle cx="122.9" cy="70.77" r="8.3"/><circle cx="120.8" cy="70.56" r="8.3"/><circle cx="118.7" cy="69.68" r="8.3"/><circle cx="116.6" cy="70.79" r="8.3"/><circle cx="114.5" cy="71.49" r="8.3"/><circle cx="112.4" cy="71.13" r="8.3"/><circle cx="110.3" cy="70.5" r="8.3"/><circle cx="108.2" cy="70.8" r="8.3"/><circle cx="106.1" cy="71.22" r="8.3"/><circle cx="104" cy="69.06" r="8.3"/><circle cx="101.9" cy="70.6" r="8.3"/><circle cx="99.8" cy="70.95" r="8.3"/><circle cx="97.7" cy="70.98" r="8.3"/><circle cx="95.6" cy="71.55" r="8.3"/><circle cx="93.5" cy="71.16" r="8.3"/><circle cx="91.4" cy="70.62" r="8.3"/><circle cx="89.3" cy="70.56" r="8.3"/><circle cx="87.2" cy="70.8" r="8.3"/><circle cx="85.1" cy="69.95" r="8.3"/><circle cx="83" cy="70.2" r="8.3"/><circle cx="80.9" cy="70.72" r="8.3"/><circle cx="78.8" cy="71.3" r="8.3"/><circle cx="76.7" cy="69.98" r="8.3"/><circle cx="74.6" cy="69.99" r="8.3"/><circle cx="72.5" cy="70.09" r="8.3"/><circle cx="70.4" cy="70.72" r="8.3"/></g>
</g>
<rect x="84.5" y="33.5" width="594.0" height="498.5" fill="none" stroke="#111" stroke-width="2.6"/>
<path d="M183.5 532.0 V521.5 M282.5 532.0 V521.5 M381.5 532.0 V521.5 M480.5 532.0 V521.5 M579.5 532.0 V521.5 M84.5 436.14 H94.5 M84.5 340.28 H94.5 M84.5 244.42 H94.5 M84.5 148.56 H94.5 M84.5 52.7 H94.5" stroke="#111" stroke-width="2.1" fill="none"/>
<g font-family="Liberation Serif, serif" font-size="27.5" fill="#111">
<text transform="translate(83.8 561) scale(0.955 1)" text-anchor="middle">0.0</text>
<text transform="translate(182.8 561) scale(0.955 1)" text-anchor="middle">0.2</text>
<text transform="translate(281.8 561) scale(0.955 1)" text-anchor="middle">0.4</text>
<text transform="translate(380.8 561) scale(0.955 1)" text-anchor="middle">0.6</text>
<text transform="translate(479.8 561) scale(0.955 1)" text-anchor="middle">0.8</text>
<text transform="translate(578.8 561) scale(0.955 1)" text-anchor="middle">1.0</text>
<text transform="translate(677.8 561) scale(0.955 1)" text-anchor="middle">1.2</text>
<text transform="translate(74.0 541.5) scale(0.955 1)" text-anchor="end">0</text>
<text transform="translate(74.0 445.64) scale(0.955 1)" text-anchor="end">5</text>
<text transform="translate(74.0 349.78) scale(0.955 1)" text-anchor="end">10</text>
<text transform="translate(74.0 253.92) scale(0.955 1)" text-anchor="end">15</text>
<text transform="translate(74.0 158.06) scale(0.955 1)" text-anchor="end">20</text>
<text transform="translate(74.0 62.2) scale(0.955 1)" text-anchor="end">25</text>
</g>
<path d="M235.3 212.4 H309.6" stroke="#F07E36" stroke-width="4.1"/>
<circle cx="272.5" cy="212.4" r="8.3" fill="url(#gorange)"/>
<text transform="translate(317.2 221.7) scale(0.93 1)" font-family="Liberation Serif, serif" font-size="27.5" fill="#111">65 </text>
<text transform="translate(347.3 221.7) scale(1.18 1)" font-family="Noto Serif CJK SC, serif" font-weight="300" font-size="24" fill="#111">℃</text>
<path d="M235.3 256.3 H309.6" stroke="#50A842" stroke-width="4.1"/>
<circle cx="272.5" cy="256.3" r="8.3" fill="url(#ggreen)"/>
<text transform="translate(317.2 265.6) scale(0.93 1)" font-family="Liberation Serif, serif" font-size="27.5" fill="#111">70 </text>
<text transform="translate(347.3 265.6) scale(1.18 1)" font-family="Noto Serif CJK SC, serif" font-weight="300" font-size="24" fill="#111">℃</text>
<path d="M235.3 299.7 H309.6" stroke="#80589F" stroke-width="4.1"/>
<circle cx="272.5" cy="299.7" r="8.3" fill="url(#gpurple)"/>
<text transform="translate(317.2 309) scale(0.93 1)" font-family="Liberation Serif, serif" font-size="27.5" fill="#111">75 </text>
<text transform="translate(347.3 309) scale(1.18 1)" font-family="Noto Serif CJK SC, serif" font-weight="300" font-size="24" fill="#111">℃</text>
<text x="376.6" y="596" text-anchor="middle" fill="#111"><tspan font-family="Noto Serif CJK SC, serif" font-size="24.5">电压</tspan><tspan font-family="Liberation Serif, serif" font-size="27.5">/V</tspan></text>
<text transform="translate(29.9 292.0) rotate(-90)" text-anchor="middle" fill="#111"><tspan font-family="Noto Serif CJK SC, serif" font-size="24.5">电流密度</tspan><tspan font-family="Liberation Serif, serif" font-size="28.2">/(mA/cm</tspan><tspan font-family="Liberation Serif, serif" font-size="16" dy="-9">2</tspan><tspan font-family="Liberation Serif, serif" font-size="28.2" dy="9">)</tspan></text>
</svg>
</body></html>
